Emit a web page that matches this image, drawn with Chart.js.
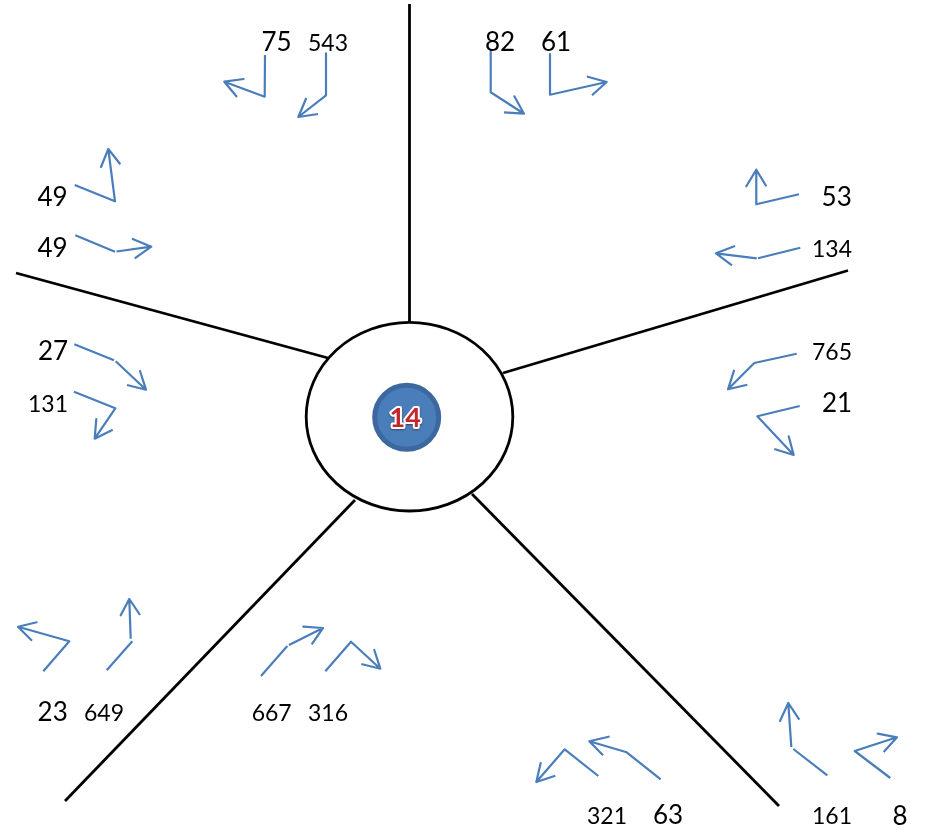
<!DOCTYPE html>
<html>
<head>
<meta charset="utf-8">
<title>Chart</title>
<script src="https://cdn.jsdelivr.net/npm/chart.js@4"></script>
<style>
html, body { margin: 0; padding: 0; background: #fff; }
canvas { display: block; }
</style>
</head>
<body>
<canvas id="board" width="935" height="832"></canvas>
<script>
var centerValue = '14';
var centerPoint = [406.7, 417.3];
var ringCenter = [409.5, 416.7];
var ringRadius = [103.3, 94.3];

var spokeTop = [[409.5, 4], [409.5, 322]];
var spokeRight = [[848, 270.5], [503, 373]];
var spokeLeft = [[16, 273], [328, 358]];
var spokeLowerLeft = [[355, 500], [65, 801]];
var spokeLowerRight = [[472, 494], [779, 806]];

var labelTexts = ['75', '543', '82', '61', '53', '134', '765', '21', '161', '8', '321', '63', '667', '316', '23', '649', '27', '131', '49', '49'];
var labelX = [276.5, 328, 500, 556, 836.7, 832, 832, 837, 832, 900, 607, 668, 271.7, 328, 52.7, 104, 53, 48, 52.5, 52.5];
var labelY = [42.5, 43.5, 42.5, 42.5, 197.5, 249.5, 352.5, 403.5, 816.5, 816.5, 816.5, 816, 713.5, 713.5, 712.5, 713.5, 351.2, 404.5, 248.5, 197.5];
var smallLabels = ['543', '134', '765', '161', '321', '667', '316', '649', '131'];

// null splits a path where the picture has a small gap at the elbow
var arrow75 = [[265, 55], [264.7, 96.7], [224.3, 81.7], [243.7, 79], [224.3, 81.7], [237, 97]];
var arrow543 = [[326, 53.3], [326, 95.3], [298.3, 117], [306, 98.7], [298.3, 117], [318, 114]];
var arrow82 = [[490.7, 51.7], [490.7, 92.3], [524, 113.7], [514.3, 96.3], [524, 113.7], [504, 112.3]];
var arrow61 = [[550, 54], [550, 94.7], [606.7, 82], [587.7, 76.7], [606.7, 82], [592, 95.3]];
var arrow53 = [[799, 194.3], [756.3, 204.3], [756.3, 169.7], [746.3, 186.3], [756.3, 169.7], [766.3, 186.3]];
var arrow134 = [[800.3, 247.7], [758, 258.3], null, [756.7, 258.3], [716, 253.3], [734.3, 246.3], [716, 253.3], [732, 265.3]];
var arrow765 = [[796.7, 353.7], [754.3, 363], [728, 389.3], [734, 370.7], [728, 389.3], [747.3, 384.7]];
var arrow21 = [[799.7, 406], [757.3, 416.3], [793.7, 455], [788.7, 436.3], [793.7, 455], [774.3, 449]];
var arrow161 = [[827.3, 775.3], [793.3, 749], null, [791.3, 747], [788.3, 703], [780, 721], [788.3, 703], [799.3, 719.7]];
var arrow8 = [[890.3, 778], [854.7, 751], [897, 737.3], [877.7, 733.7], [897, 737.3], [883.7, 752]];
var arrow321 = [[598.3, 776], [564.7, 749.3], [536.3, 782], [540.7, 763], [536.3, 782], [555.3, 775.7]];
var arrow63 = [[660.7, 779.3], [626.7, 752.3], [589.3, 741.3], [608.7, 736.7], [589.3, 741.3], [603, 755.3]];
var arrow667 = [[261, 676], [287.3, 646], null, [289, 645], [323, 628], [303.3, 626.7], [323, 628], [311.7, 644.3]];
var arrow316 = [[325.3, 671.3], [351, 641.7], [380.3, 668.7], [374.3, 650], [380.3, 668.7], [361.3, 664]];
var arrow23 = [[43.3, 671.3], [69.3, 641.3], [18, 626.7], [36.7, 622.3], [18, 626.7], [32, 640.7]];
var arrow649 = [[106.7, 670.3], [132.3, 641.3], null, [130.7, 638.7], [129.3, 599], [120.7, 615.3], [129.3, 599], [140, 615]];
var arrow27 = [[74.3, 344.3], [114, 360.3], null, [115.7, 361.3], [146, 389.7], [140, 371], [146, 389.7], [127, 385]];
var arrow131 = [[74, 391.7], [115.3, 408.3], [94.7, 438.7], [96.3, 419], [94.7, 438.7], [112.7, 429.7]];
var arrow49a = [[74.7, 185], [115, 201.3], [108.3, 149], [101, 167], [108.3, 149], [120.3, 164.3]];
var arrow49b = [[75.3, 235.3], [115, 251.7], null, [116.5, 251.5], [151.3, 246.7], [132.7, 239], [151.3, 246.7], [134.7, 258.3]];

var spokes = [spokeTop, spokeRight, spokeLeft, spokeLowerLeft, spokeLowerRight];
var arrows = [arrow75, arrow543, arrow82, arrow61, arrow53, arrow134, arrow765, arrow21, arrow161, arrow8,
    arrow321, arrow63, arrow667, arrow316, arrow23, arrow649, arrow27, arrow131, arrow49a, arrow49b];

function toPoints(path) {
    return path.map(function(p) {
        return p ? { x: p[0], y: p[1] } : { x: null, y: null };
    });
}

var datasets = [];

spokes.forEach(function(path) {
    datasets.push({
        data: toPoints(path),
        showLine: true,
        borderColor: '#000',
        borderWidth: 2.8,
        pointRadius: 0
    });
});

arrows.forEach(function(path) {
    datasets.push({
        data: toPoints(path),
        showLine: true,
        borderColor: '#4a7ebb',
        borderWidth: 2.2,
        borderJoinStyle: 'round',
        pointRadius: 0
    });
});

// the round badge in the middle
datasets.push({
    data: [{ x: centerPoint[0], y: centerPoint[1] }],
    pointRadius: 32,
    pointBackgroundColor: '#4a7ebb',
    pointBorderColor: '#3c689f',
    pointBorderWidth: 5
});

// holds the number labels, nothing is drawn for the points themselves
datasets.push({
    data: labelX.map(function(x, i) {
        return { x: x, y: labelY[i] };
    }),
    pointRadius: 0
});

var ringPlugin = {
    id: 'ring',
    beforeDatasetsDraw: function(chart) {
        var ctx = chart.ctx;
        var xs = chart.scales.x;
        var ys = chart.scales.y;
        var cx = xs.getPixelForValue(ringCenter[0]);
        var cy = ys.getPixelForValue(ringCenter[1]);
        var rx = Math.abs(xs.getPixelForValue(ringCenter[0] + ringRadius[0]) - cx);
        var ry = Math.abs(ys.getPixelForValue(ringCenter[1] + ringRadius[1]) - cy);
        ctx.save();
        ctx.beginPath();
        ctx.ellipse(cx, cy, rx, ry, 0, 0, Math.PI * 2);
        ctx.lineWidth = 2.8;
        ctx.strokeStyle = '#000';
        ctx.stroke();
        ctx.restore();
    }
};

var textPlugin = {
    id: 'texts',
    afterDatasetsDraw: function(chart) {
        var ctx = chart.ctx;
        var count = chart.data.datasets.length;
        var labelPoints = chart.getDatasetMeta(count - 1).data;
        var badge = chart.getDatasetMeta(count - 2).data[0];

        ctx.save();
        ctx.textAlign = 'center';
        ctx.textBaseline = 'middle';
        ctx.fillStyle = '#000';
        labelTexts.forEach(function(text, i) {
            var small = smallLabels.indexOf(text) >= 0;
            ctx.font = (small ? 23 : 26) + 'px Lato';
            ctx.fillText(text, labelPoints[i].x, labelPoints[i].y);
        });

        // red number with a white halo
        ctx.font = 'bold 27px Lato';
        ctx.lineJoin = 'round';
        ctx.shadowColor = 'rgba(60,30,30,0.6)';
        ctx.shadowBlur = 2;
        ctx.shadowOffsetY = 1;
        ctx.strokeStyle = '#fff';
        ctx.lineWidth = 4;
        ctx.strokeText(centerValue, badge.x - 1.5, badge.y + 0.5);
        ctx.shadowColor = 'transparent';
        ctx.fillStyle = '#c3262c';
        ctx.fillText(centerValue, badge.x - 1.5, badge.y + 0.5);
        ctx.restore();
    }
};

var board = new Chart(document.getElementById('board').getContext('2d'), {
    type: 'scatter',
    data: { datasets: datasets },
    plugins: [ringPlugin, textPlugin],
    options: {
        responsive: false,
        animation: false,
        devicePixelRatio: 1,
        layout: { padding: 0, autoPadding: false },
        plugins: {
            legend: { display: false },
            title: { display: false },
            tooltip: { enabled: false }
        },
        scales: {
            x: { type: 'linear', display: false, min: 0, max: 935 },
            y: { type: 'linear', display: false, min: 0, max: 832, reverse: true }
        }
    }
});
</script>
</body>
</html>
